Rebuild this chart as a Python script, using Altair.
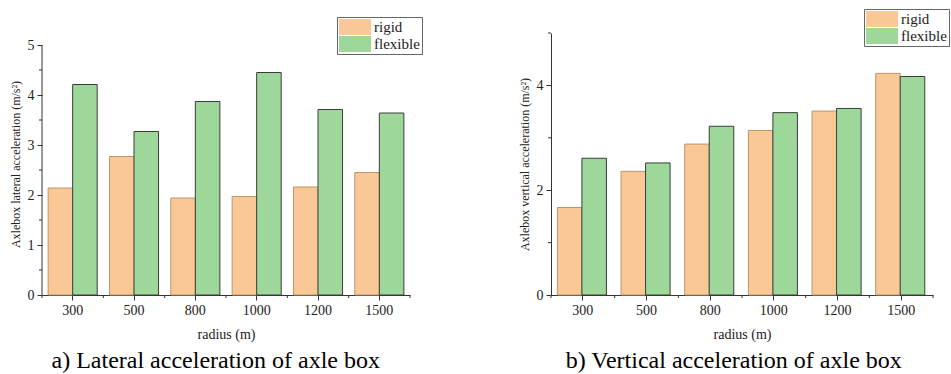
import altair as alt
import pandas as pd

radius = ["300", "500", "800", "1000", "1200", "1500"]
series = ["rigid", "flexible"]
lat_rigid = [2.14, 2.77, 1.94, 1.97, 2.16, 2.45]
lat_flex = [4.21, 3.27, 3.87, 4.45, 3.71, 3.64]
vert_rigid = [1.67, 2.36, 2.88, 3.14, 3.51, 4.23]
vert_flex = [2.61, 2.52, 3.22, 3.48, 3.56, 4.17]
lat_ticks = [0, 1, 2, 3, 4, 5]
lat_minor = [0.5, 1.5, 2.5, 3.5, 4.5]
vert_ticks = [0, 2, 4]
vert_minor = [1, 3, 5]

SERIF = "Liberation Serif"
H = 262
P_INNER = 0.2
P_OUTER = 0.1


def long(r, f):
    rows = []
    for i, rad in enumerate(radius):
        rows.append({"radius": rad, "type": "rigid", "value": r[i]})
        rows.append({"radius": rad, "type": "flexible", "value": f[i]})
    return pd.DataFrame(rows)


fill_scale = alt.Scale(domain=series, range=["#FAC796", "#9DD89A"])
stroke_scale = alt.Scale(domain=series, range=["#B8966F", "#3C3C3C"])


def panel(df, ymax, ticks, minor, ytitle, caption, lx, ly, width, draw_domain_rule, axis_top, tpad):
    legend = alt.Legend(
        orient="none", legendX=lx, legendY=ly, title=None,
        symbolType="M-1,-1H3V1H-1Z", symbolSize=256, symbolStrokeWidth=0,
        symbolOpacity=1, labelFont=SERIF, labelFontSize=15, labelColor="#222",
        strokeColor="#666", fillColor="white", padding=2, rowPadding=1,
        labelOffset=19,
    )
    yaxis = alt.Axis(
        title=ytitle, values=ticks, grid=False, domain=not draw_domain_rule,
        tickSize=5, labelPadding=3, titlePadding=tpad,
    )
    xscale = alt.Scale(paddingInner=P_INNER, paddingOuter=P_OUTER)
    base = alt.Chart(df).mark_bar(strokeWidth=1).encode(
        x=alt.X("radius:N", sort=radius, scale=xscale,
                axis=alt.Axis(title="radius (m)", labelAngle=0, tickSize=5,
                              labelPadding=3, titlePadding=10, titleFontSize=14)),
        xOffset=alt.XOffset("type:N", sort=series),
        y=alt.Y("value:Q", scale=alt.Scale(domain=[0, ymax], nice=False), axis=yaxis),
        fill=alt.Fill("type:N", scale=fill_scale, sort=series, legend=legend),
        stroke=alt.Stroke("type:N", scale=stroke_scale, legend=None),
    )
    layers = [base]
    # minor ticks on the y axis
    ymin = alt.Chart(pd.DataFrame({"value": minor})).mark_rule(
        color="#333", strokeWidth=1
    ).encode(x=alt.value(-3), x2=alt.value(0), y="value:Q")
    layers.append(ymin)
    # minor ticks on the x axis, midway between the groups
    step = width / (len(radius) - P_INNER + 2 * P_OUTER)
    half_gap = step * P_INNER / 2
    xmin_a = alt.Chart(pd.DataFrame({"radius": radius})).mark_rule(
        color="#333", strokeWidth=1, xOffset=-half_gap
    ).encode(x=alt.X("radius:N", sort=radius, bandPosition=0),
             y=alt.value(H), y2=alt.value(H + 3))
    xmin_b = alt.Chart(pd.DataFrame({"radius": radius[-1:]})).mark_rule(
        color="#333", strokeWidth=1, xOffset=half_gap
    ).encode(x=alt.X("radius:N", sort=radius, bandPosition=1),
             y=alt.value(H), y2=alt.value(H + 3))
    layers += [xmin_a, xmin_b]
    if draw_domain_rule:
        rule = alt.Chart(pd.DataFrame({"lo": [0], "hi": [axis_top]})).mark_rule(
            color="#333", strokeWidth=1
        ).encode(x=alt.value(0), y="lo:Q", y2="hi:Q")
        layers.append(rule)
    return alt.layer(*layers).properties(
        width=width, height=H,
        title=alt.TitleParams(caption, orient="bottom", font=SERIF, fontSize=24,
                              fontWeight="normal", anchor="middle", frame="bounds",
                              offset=8, color="black"),
    )


left = panel(long(lat_rigid, lat_flex), 5.24, lat_ticks, lat_minor,
             "Axlebox lateral acceleration (m/s²)",
             "a) Lateral acceleration of axle box", 295, -16, 368, True, 5, 5)
right = panel(long(vert_rigid, vert_flex), 5.0, vert_ticks, vert_minor,
              "Axlebox vertical acceleration (m/s²)",
              "b) Vertical acceleration of axle box", 313, -24, 382, False, 5, 5)

chart = alt.hconcat(left, right, spacing=141, bounds="flush").resolve_scale(
    fill="independent", stroke="independent"
).resolve_legend(fill="independent").properties(
    padding={"left": 9, "top": 8, "right": 1, "bottom": 0}
).configure_view(stroke=None).configure_axis(
    labelFont=SERIF, labelFontSize=14, labelColor="#222",
    titleFont=SERIF, titleFontSize=12, titleFontWeight="normal", titleColor="#222",
    domainColor="#333", tickColor="#333",
)

chart.save("out.html", embed_options={"renderer": "svg", "actions": False})
